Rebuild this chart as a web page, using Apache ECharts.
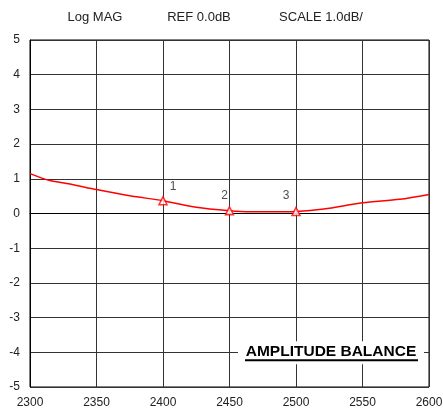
<!DOCTYPE html>
<html>
<head>
<meta charset="utf-8">
<script src="https://cdn.jsdelivr.net/npm/echarts@6/dist/echarts.min.js"></script>
<style>
html,body{margin:0;padding:0;background:#fff;}
#c{width:443px;height:412px;}
</style>
</head>
<body>
<div id="c"></div>
<script>
// Data
var freq = [2300, 2315, 2330, 2350, 2375, 2400, 2425, 2450, 2466, 2481, 2500, 2521, 2550, 2578, 2600];
var amp  = [1.15, 0.95, 0.85, 0.69, 0.51, 0.37, 0.18, 0.08, 0.05, 0.05, 0.06, 0.13, 0.31, 0.41, 0.55];
var markerFreq = [2400, 2450, 2500];
var markerAmp  = [0.37, 0.08, 0.06];
var markerNames = ['1', '2', '3'];
var headerTexts = ['Log MAG', 'REF 0.0dB', 'SCALE 1.0dB/'];
var annotation = 'AMPLITUDE BALANCE';

var labelOffsets = [[10, -14], [-5, -15], [-10, -16]];
var headerX = [95, 199, 321];
var FONT = '"Liberation Sans", Arial, sans-serif';

var chart = echarts.init(document.getElementById('c'), null, {renderer: 'canvas'});

var lineData = freq.map(function (f, i) { return [f, amp[i]]; });
var markerData = markerFreq.map(function (f, i) {
  return {
    value: [f, markerAmp[i]],
    name: markerNames[i],
    label: {offset: labelOffsets[i]}
  };
});

var graphics = headerTexts.map(function (t, i) {
  return {
    type: 'text', x: headerX[i], y: 17,
    style: {text: t, font: '13px ' + FONT, fill: '#222', textAlign: 'center', textVerticalAlign: 'middle'}
  };
});

chart.setOption({
  animation: false,
  grid: {left: 30, right: 14, top: 40, bottom: 25, containLabel: false, outerBoundsMode: 'none',
         show: true, borderColor: '#000', borderWidth: 1, backgroundColor: 'transparent'},
  xAxis: {
    type: 'value', min: 2300, max: 2600, interval: 50,
    axisLine: {show: true, lineStyle: {color: '#000', width: 1}},
    axisTick: {show: false},
    axisLabel: {color: '#222', fontSize: 12, fontFamily: FONT, margin: 10, formatter: function (v) { return String(v); }},
    splitLine: {show: true, lineStyle: {color: '#333', width: 1}}
  },
  yAxis: {
    type: 'value', min: -5, max: 5, interval: 1,
    axisLine: {show: true, lineStyle: {color: '#000', width: 1}},
    axisTick: {show: false},
    axisLabel: {color: '#222', fontSize: 12, fontFamily: FONT, margin: 10},
    splitLine: {show: true, lineStyle: {color: '#333', width: 1}}
  },
  series: [
    {
      type: 'line', data: lineData, smooth: 0.3, showSymbol: false,
      lineStyle: {color: '#ff0000', width: 1.5}, z: 3
    },
    {
      type: 'scatter', data: markerData, symbol: 'triangle', symbolSize: 8,
      itemStyle: {color: '#fff', borderColor: '#ff0000', borderWidth: 1.5},
      label: {show: true, formatter: '{b}', color: '#222', fontSize: 12, fontFamily: FONT, position: 'inside'},
      z: 4
    }
  ]
});

// annotation box placed from chart coordinates
var p = chart.convertToPixel({gridIndex: 0}, [2600, -4]);
graphics.push({
  type: 'rect', z: 50,
  shape: {x: 238, y: p[1] - 11, width: p[0] - 5 - 238, height: 23},
  style: {fill: '#fff'}
});
graphics.push({
  type: 'text', z: 51, x: 331, y: p[1] - 1,
  style: {text: annotation, font: 'bold 15.5px ' + FONT, fill: '#000', textAlign: 'center', textVerticalAlign: 'middle'}
});
graphics.push({
  type: 'rect', z: 51,
  shape: {x: 245, y: p[1] + 7, width: 173, height: 2},
  style: {fill: '#000'}
});
chart.setOption({graphic: graphics});
</script>
</body>
</html>
